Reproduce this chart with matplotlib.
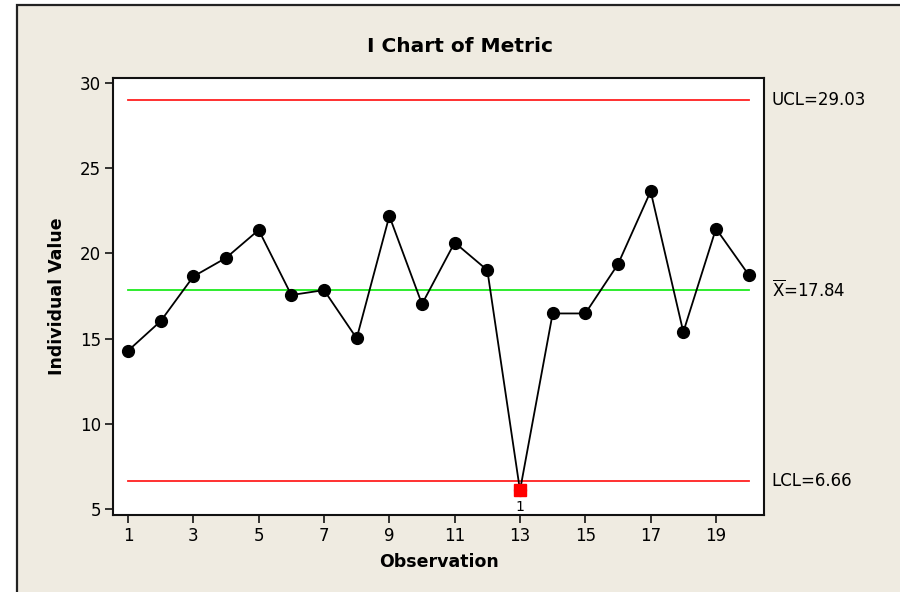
import matplotlib
matplotlib.use("Agg")
import matplotlib.pyplot as plt
from matplotlib.patches import Rectangle

obs = list(range(1, 21))
values = [14.29, 16.03, 18.65, 19.74, 21.38, 17.56, 17.85, 15.02, 22.20, 17.03,
          20.64, 19.02, 6.09, 16.48, 16.48, 19.37, 23.65, 15.39, 21.46, 18.75]
ucl = 29.03
center = 17.84
lcl = 6.66
out_idx = [12]          # point 13 fails test 1
x_ticks = [1, 3, 5, 7, 9, 11, 13, 15, 17, 19]
y_ticks = [5, 10, 15, 20, 25, 30]

bg = "#EFEBE1"
plt.rcParams['font.family'] = ['DejaVu Sans']

fig = plt.figure(figsize=(9, 5.92), dpi=100, facecolor="white")
# beige panel with dark frame (left and top edges visible)
fig.patches.append(Rectangle((17 / 900, -0.2), 1.2, 1.2 - 5 / 592,
                             transform=fig.transFigure, facecolor=bg,
                             edgecolor="#222222", linewidth=1.6, zorder=-10))

ax = fig.add_axes([113 / 900, 1 - 515 / 592, (764 - 113) / 900, (515 - 78) / 592])
ax.set_facecolor("white")

ax.plot([1, 20], [ucl, ucl], color="#FF2020", lw=1.3, zorder=1)
ax.plot([1, 20], [lcl, lcl], color="#FF2020", lw=1.3, zorder=1)
ax.plot([1, 20], [center, center], color="#1EEA1E", lw=1.3, zorder=1)

ax.plot(obs, values, color="black", lw=1.3, marker="o", markersize=8.5,
        markerfacecolor="black", markeredgecolor="black", zorder=3)
for i in out_idx:
    ax.plot(obs[i], values[i], marker="s", markersize=8, color="#FF0000",
            markeredgecolor="#FF0000", zorder=4)
    ax.annotate("1", (obs[i], values[i]), xytext=(0, -12), textcoords="offset points",
                ha="center", va="center", fontsize=10)

ax.set_xlim(0.54, 20.47)
ax.set_ylim(4.65, 30.3)
ax.set_xticks(x_ticks)
ax.set_yticks(y_ticks)
ax.tick_params(direction="out", length=5.5, width=1.1, labelsize=12, pad=3)
for s in ax.spines.values():
    s.set_linewidth(1.5)
    s.set_color("#111111")

ax.set_xlabel("Observation", fontsize=12.5, fontweight="bold", labelpad=6)
ax.set_ylabel("Individual Value", fontsize=12.5, fontweight="bold", labelpad=10)
fig.text(460 / 900, 1 - 47 / 592, "I Chart of Metric", ha="center", va="center",
         fontsize=14.5, fontweight="bold")

# control limit labels on the right
ytr = ax.get_yaxis_transform()
ax.text(1.012, ucl, "UCL=29.03", transform=ytr, ha="left", va="center", fontsize=12)
ax.text(1.012, center, r"$\overline{\mathrm{X}}$=17.84", transform=ytr,
        ha="left", va="center", fontsize=12)
ax.text(1.012, lcl, "LCL=6.66", transform=ytr, ha="left", va="center", fontsize=12)

fig.savefig("out.png", dpi=100, facecolor=fig.get_facecolor())
